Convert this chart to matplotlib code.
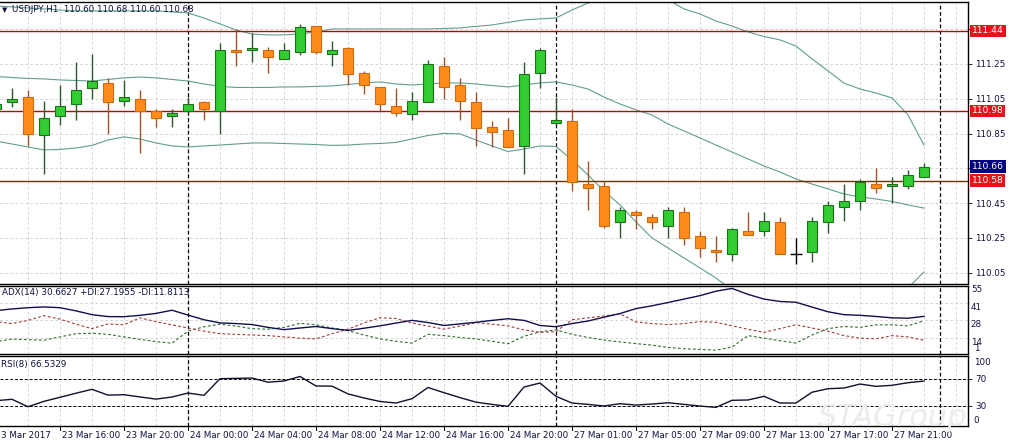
import matplotlib
matplotlib.use("Agg")
import matplotlib.pyplot as plt
from matplotlib.transforms import blended_transform_factory
import numpy as np

W, H = 1009, 447

# hourly candles, 23 Mar 12:00 .. 27 Mar 23:00 (weekend gap after index 34)
OPEN = [110.99, 111.03, 111.06, 110.84, 110.95, 111.02, 111.11, 111.14, 111.04, 111.05,
        110.98, 110.95, 110.98, 111.03, 110.98, 111.33, 111.33, 111.33, 111.28, 111.32,
        111.47, 111.31, 111.34, 111.20, 111.12, 111.01, 110.96, 111.03, 111.24, 111.13,
        111.03, 110.89, 110.87, 110.78, 111.20, 110.91, 110.92, 110.56, 110.55, 110.34,
        110.40, 110.37, 110.32, 110.40, 110.26, 110.18, 110.16, 110.29, 110.29, 110.34,
        110.16, 110.17, 110.34, 110.43, 110.46, 110.56, 110.55, 110.55, 110.60]
HIGH = [111.04, 111.11, 111.10, 111.04, 111.13, 111.26, 111.31, 111.17, 111.16, 111.10,
        110.99, 110.99, 111.06, 111.04, 111.37, 111.45, 111.43, 111.35, 111.37, 111.48,
        111.47, 111.38, 111.35, 111.21, 111.12, 111.11, 111.09, 111.27, 111.29, 111.17,
        111.09, 110.92, 110.94, 111.26, 111.34, 111.06, 110.99, 110.69, 110.58, 110.43,
        110.41, 110.39, 110.43, 110.43, 110.29, 110.26, 110.31, 110.40, 110.40, 110.37,
        110.25, 110.37, 110.46, 110.56, 110.59, 110.65, 110.60, 110.64, 110.68]
LOW = [110.96, 111.00, 110.78, 110.62, 110.90, 110.93, 111.05, 110.85, 111.01, 110.74,
       110.89, 110.89, 110.97, 110.93, 110.85, 111.24, 111.26, 111.20, 111.28, 111.30,
       111.31, 111.24, 111.13, 111.08, 110.98, 110.95, 110.93, 111.03, 111.05, 110.93,
       110.78, 110.77, 110.77, 110.62, 111.11, 110.90, 110.52, 110.41, 110.31, 110.25,
       110.30, 110.30, 110.25, 110.21, 110.14, 110.11, 110.12, 110.27, 110.26, 110.16,
       110.10, 110.11, 110.28, 110.35, 110.41, 110.51, 110.45, 110.53, 110.60]
CLOSE = [111.02, 111.05, 110.85, 110.94, 111.01, 111.10, 111.15, 111.03, 111.06, 110.98,
         110.94, 110.97, 111.02, 110.99, 111.33, 111.32, 111.34, 111.29, 111.33, 111.46,
         111.32, 111.33, 111.19, 111.13, 111.02, 110.97, 111.04, 111.25, 111.12, 111.04,
         110.88, 110.86, 110.77, 111.19, 111.33, 110.93, 110.57, 110.54, 110.32, 110.41,
         110.38, 110.34, 110.41, 110.25, 110.19, 110.17, 110.30, 110.27, 110.35, 110.16,
         110.16, 110.35, 110.44, 110.46, 110.57, 110.54, 110.56, 110.61, 110.66]

BB_UPPER = [111.583, 111.578, 111.572, 111.566, 111.560, 111.555, 111.555, 111.555, 111.555, 111.555,
            111.555, 111.549, 111.543, 111.514, 111.480, 111.445, 111.422, 111.417, 111.417, 111.422,
            111.434, 111.451, 111.451, 111.451, 111.451, 111.451, 111.451, 111.451, 111.454, 111.457,
            111.466, 111.474, 111.489, 111.503, 111.509, 111.514, 111.560, 111.600, 111.630, 111.650,
            111.660, 111.660, 111.620, 111.566, 111.537, 111.497, 111.468, 111.434, 111.408, 111.388,
            111.353, 111.279, 111.210, 111.140, 111.106, 111.083, 111.055, 110.957, 110.784]
BB_MIDDLE = [111.178, 111.172, 111.167, 111.164, 111.158, 111.155, 111.152, 111.161, 111.170, 111.175,
             111.170, 111.161, 111.152, 111.135, 111.121, 111.115, 111.115, 111.115, 111.118, 111.118,
             111.121, 111.124, 111.132, 111.141, 111.147, 111.135, 111.129, 111.135, 111.141, 111.141,
             111.135, 111.126, 111.118, 111.129, 111.141, 111.147, 111.129, 111.106, 111.060, 111.020,
             110.986, 110.957, 110.905, 110.865, 110.825, 110.784, 110.744, 110.704, 110.664, 110.629,
             110.589, 110.560, 110.532, 110.503, 110.486, 110.474, 110.460, 110.440, 110.422]
BB_LOWER = [110.807, 110.790, 110.773, 110.756, 110.759, 110.767, 110.782, 110.813, 110.831, 110.819,
            110.796, 110.779, 110.773, 110.779, 110.784, 110.790, 110.796, 110.796, 110.793, 110.790,
            110.787, 110.782, 110.784, 110.790, 110.793, 110.799, 110.819, 110.839, 110.851, 110.848,
            110.813, 110.779, 110.747, 110.761, 110.779, 110.776, 110.698, 110.612, 110.520, 110.440,
            110.342, 110.250, 110.193, 110.135, 110.078, 110.020, 109.951, 109.894, 109.848, 109.813,
            109.790, 109.767, 109.756, 109.761, 109.790, 109.836, 109.894, 109.963, 110.055]

ADX = [35.2, 36.5, 37.5, 38.1, 37.5, 35.0, 32.0, 30.5, 30.4, 31.5,
       33.0, 35.5, 31.7, 28.0, 25.5, 25.0, 24.2, 22.0, 20.2, 21.5,
       22.7, 21.0, 19.6, 21.3, 23.2, 25.4, 27.5, 25.8, 23.5, 24.7,
       26.0, 27.5, 28.8, 27.5, 23.5, 22.5, 25.0, 27.0, 30.0, 32.9,
       36.8, 39.0, 41.6, 44.3, 47.0, 50.5, 52.7, 48.0, 44.3, 42.4,
       41.8, 38.0, 34.3, 32.0, 31.5, 30.6, 29.5, 29.2, 30.66]
PLUS_DI = [10.8, 12.8, 12.3, 11.9, 14.5, 17.0, 17.4, 16.5, 14.5, 12.5,
           10.8, 9.5, 19.0, 22.5, 24.5, 23.0, 21.0, 20.5, 22.0, 25.2,
           24.0, 21.5, 19.4, 16.0, 12.9, 11.0, 9.6, 16.5, 15.5, 14.0,
           12.9, 11.0, 9.1, 15.0, 18.5, 20.0, 16.5, 14.0, 12.0, 10.5,
           9.2, 8.0, 6.2, 5.2, 4.6, 4.0, 6.5, 15.5, 13.5, 11.5,
           9.6, 16.0, 21.0, 22.7, 22.0, 24.0, 24.0, 23.2, 27.2]
MINUS_DI = [26.5, 25.0, 27.5, 31.2, 28.5, 24.5, 21.0, 24.7, 24.0, 29.5,
            26.5, 24.0, 21.5, 19.0, 17.0, 16.5, 16.0, 15.5, 14.5, 13.5,
            12.9, 17.0, 20.6, 25.5, 29.6, 29.0, 25.5, 23.0, 20.6, 23.0,
            25.8, 24.5, 23.2, 20.0, 18.1, 18.6, 28.0, 29.5, 31.0, 32.7,
            26.3, 25.0, 24.2, 25.0, 26.5, 26.0, 23.2, 20.5, 18.1, 21.0,
            24.0, 21.5, 19.0, 15.5, 13.5, 13.0, 15.5, 14.5, 11.8]
RSI = [37.5, 39.5, 28.5, 36.5, 42.5, 48.5, 54.3, 45.7, 46.3, 43.0,
       39.8, 42.9, 48.8, 45.4, 70.0, 70.5, 71.0, 64.8, 66.6, 73.3,
       59.2, 59.0, 47.5, 41.5, 36.3, 34.0, 40.4, 57.0, 49.3, 42.0,
       35.3, 32.0, 29.1, 57.7, 63.6, 43.9, 34.0, 32.0, 29.6, 33.0,
       31.0, 32.5, 34.4, 32.0, 29.5, 27.6, 38.0, 38.5, 43.9, 34.0,
       34.0, 50.0, 55.2, 56.2, 62.1, 58.7, 60.2, 64.1, 66.53]

DATE_POS = [4, 8, 12, 16, 20, 24, 28, 32, 36, 40, 44, 48, 52, 56]
DATE_LABELS = ["23 Mar 16:00", "23 Mar 20:00", "24 Mar 00:00", "24 Mar 04:00", "24 Mar 08:00",
               "24 Mar 12:00", "24 Mar 16:00", "24 Mar 20:00", "27 Mar 01:00", "27 Mar 05:00",
               "27 Mar 09:00", "27 Mar 13:00", "27 Mar 17:00", "27 Mar 21:00"]
SEPARATORS = [12, 35, 59]
LEVELS = [111.44, 110.98, 110.58]
LAST_PRICE = 110.66
PRICE_TICKS = [111.45, 111.25, 111.05, 110.85, 110.65, 110.45, 110.25, 110.05]

GREEN, GREEN_EDGE = "#33cc33", "#1f6f1f"
ORANGE, ORANGE_EDGE = "#ff8c1a", "#d06a10"
BAND = "#5f9f90"
GRID = "#cccccc"
TXT = "#101040"
FONT = 6.3

plt.rcParams["font.family"] = ["DejaVu Sans"]


def _axes_px(fig, top, bottom, right=968):
    return fig.add_axes([0, (H - bottom) / H, right / W, (bottom - top) / H])


def _style(ax, ymin, ymax):
    ax.set_xlim(0.25, 60.75)
    ax.set_ylim(ymin, ymax)
    ax.set_facecolor("white")
    for side in ("top", "right", "bottom"):
        ax.spines[side].set_color("#000000")
        ax.spines[side].set_linewidth(1.0)
    ax.spines["left"].set_visible(False)
    ax.yaxis.tick_right()
    ax.tick_params(axis="y", direction="out", length=3, width=0.6, labelsize=FONT,
                   labelcolor=TXT, pad=2)
    ax.set_xticks(np.arange(2, 61, 2))
    ax.tick_params(axis="x", length=0, labelbottom=False)
    ax.grid(axis="both", color=GRID, linestyle=(0, (3, 3)), linewidth=0.6)
    ax.set_axisbelow(True)
    for sep in SEPARATORS:
        ax.axvline(sep, color="#000000", linestyle=(0, (3, 2)), linewidth=0.9, zorder=1)


fig = plt.figure(figsize=(W / 100, H / 100), dpi=100)
fig.patch.set_facecolor("white")

x = np.arange(len(CLOSE))

# ---------------- price panel
ax = _axes_px(fig, 2, 283.5)
_style(ax, 109.9885, 111.606)
ax.set_yticks(PRICE_TICKS)
ax.set_yticklabels(["" if p in (111.45, 110.65) else f"{p:.2f}" for p in PRICE_TICKS])

for band in (BB_UPPER, BB_MIDDLE, BB_LOWER):
    ax.plot(x, band, color=BAND, linewidth=0.8, zorder=2)
for level in LEVELS:
    ax.axhline(level, color="#c00000", linewidth=1.0, zorder=2)

for i in x:
    o, h, l, c = OPEN[i], HIGH[i], LOW[i], CLOSE[i]
    if abs(c - o) < 1e-9:
        ax.vlines(i, l, h, color="#000000", linewidth=1.0, zorder=3)
        ax.hlines(o, i - 0.35, i + 0.35, color="#000000", linewidth=1.0, zorder=3)
        continue
    up = c > o
    fill, edge = (GREEN, GREEN_EDGE) if up else (ORANGE, ORANGE_EDGE)
    wick = "#2c5a2c" if up else "#a0522d"
    ax.vlines(i, l, h, color=wick, linewidth=1.0, zorder=3)
    ax.bar(i, abs(c - o), bottom=min(o, c), width=0.66, color=fill,
           edgecolor=edge, linewidth=0.8, zorder=4)

price_tr = blended_transform_factory(ax.transAxes, ax.transData)
for level in LEVELS:
    ax.text(1.004, level, f"{level:.2f}", transform=price_tr,
            ha="left", va="center", fontsize=FONT + 0.3, color="white", clip_on=False, zorder=6,
            bbox=dict(boxstyle="square,pad=0.2", fc="#e4141b", ec="none"))
ax.text(1.004, LAST_PRICE, f"{LAST_PRICE:.2f}", transform=price_tr,
        ha="left", va="center", fontsize=FONT + 0.3, color="white", clip_on=False, zorder=6,
        bbox=dict(boxstyle="square,pad=0.2", fc="#000080", ec="none"))

ax.text(0.002, 0.972, "\u25bc", transform=ax.transAxes, fontsize=5, color=TXT, va="center")
ax.text(0.012, 0.972, "USDJPY,H1  110.60 110.68 110.60 110.68", transform=ax.transAxes,
        fontsize=FONT, color=TXT, va="center")

# ---------------- ADX panel
adx_ax = _axes_px(fig, 285.5, 354)
_style(adx_ax, 1, 55)
adx_ax.set_yticks([55, 41, 28, 14])
adx_ax.set_yticklabels(["55", "41", "28", "14"], va="top")
adx_ax.tick_params(axis="y", length=0)
adx_ax.text(1.006, 5.0, "1", transform=blended_transform_factory(adx_ax.transAxes, adx_ax.transData),
            fontsize=FONT, color=TXT, va="center", clip_on=False)
adx_ax.plot(x, PLUS_DI, color="#2f6e2f", linewidth=0.8, linestyle=(0, (2.5, 2)), zorder=2)
adx_ax.plot(x, MINUS_DI, color="#a33a3a", linewidth=0.8, linestyle=(0, (2.5, 2)), zorder=2)
adx_ax.plot(x, ADX, color="#101050", linewidth=1.0, zorder=3)
adx_ax.text(0.002, 0.9, "ADX(14) 30.6627 +DI:27.1955 -DI:11.8113", transform=adx_ax.transAxes,
            fontsize=FONT, color=TXT, va="center")

# ---------------- RSI panel
rsi_ax = _axes_px(fig, 356, 426)
_style(rsi_ax, 0, 103.6)
rsi_ax.set_yticks([70, 30])
rsi_ax.axhline(70, color="#000000", linestyle=(0, (3, 2)), linewidth=0.7, zorder=2)
rsi_ax.axhline(30, color="#000000", linestyle=(0, (3, 2)), linewidth=0.7, zorder=2)
rsi_tr = blended_transform_factory(rsi_ax.transAxes, rsi_ax.transData)
rsi_ax.text(1.006, 93.3, "100", transform=rsi_tr, fontsize=FONT, color=TXT, va="center", clip_on=False)
rsi_ax.text(1.006, 8.8, "0", transform=rsi_tr, fontsize=FONT, color=TXT, va="center", clip_on=False)
rsi_ax.plot(x, RSI, color="#101030", linewidth=1.0, zorder=3)
rsi_ax.text(0.001, 0.88, "RSI(8) 66.5329", transform=rsi_ax.transAxes,
            fontsize=FONT, color=TXT, va="center")

# faint watermark, under the date labels
fig.text(893 / W, (H - 418) / H, "STAGroup", fontsize=22, color="#ececec", style="italic",
         ha="center", va="center", zorder=0.5)

# date axis, labels start just right of each tick as in the terminal
date_tr = blended_transform_factory(rsi_ax.transData, fig.transFigure)
for pos, label in zip(DATE_POS, DATE_LABELS):
    rsi_ax.plot([pos, pos], [(H - 426) / H, (H - 429.5) / H], color="#000000", linewidth=0.7,
                transform=date_tr, clip_on=False)
    rsi_ax.text(pos + 0.12, (H - 436) / H, label, transform=date_tr, fontsize=FONT,
                color=TXT, ha="left", va="center", clip_on=False, zorder=5)
fig.text(1 / W, (H - 436) / H, "3 Mar 2017", fontsize=FONT, color=TXT, ha="left", va="center")

fig.savefig("out.png", dpi=100, facecolor="white")
